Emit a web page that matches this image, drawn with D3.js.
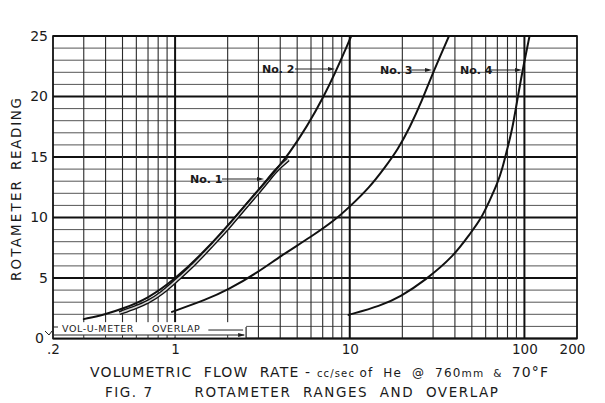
<!DOCTYPE html>
<html><head><meta charset="utf-8">
<script src="https://cdn.jsdelivr.net/npm/d3@7"></script>
<style>body{margin:0;background:#fff}svg{display:block}text{font-family:"DejaVu Sans",sans-serif;fill:#1a1a1a}</style>
</head><body>
<svg id="c" width="605" height="403"></svg>
<script>
// ---- data ----
const no1X = [0.48, 0.6, 0.7, 0.85, 1.0, 1.3, 1.6, 2.0, 2.4, 3.0, 3.5, 3.9, 4.45];
const no1Y = [2.1, 2.6, 3.0, 3.8, 4.7, 6.2, 7.6, 9.1, 10.5, 12.1, 13.3, 14.1, 14.8];
const no2X = [0.3, 0.4, 0.5, 0.7, 1.0, 1.5, 2.2, 3.0, 4.45, 7.24, 10.2];
const no2Y = [1.6, 2.0, 2.45, 3.3, 4.9, 7.3, 10.0, 12.3, 15.0, 20.0, 25.0];
const no3X = [0.96, 1.5, 2, 3, 4, 6, 8.25, 10, 13, 16, 18.8, 22, 26, 30, 37];
const no3Y = [2.2, 3.2, 4.0, 5.5, 6.8, 8.4, 9.8, 10.9, 12.5, 14.2, 15.6, 17.4, 19.7, 22.0, 25.0];
const no4X = [9.84, 15, 19.5, 27, 39.4, 49, 56, 63.5, 70, 75, 79.5, 85, 91, 97.7, 107];
const no4Y = [1.95, 2.7, 3.45, 4.8, 6.8, 8.7, 9.8, 11.45, 12.8, 14.1, 15.6, 17.2, 19.7, 22.2, 25.0];
const curveNames = ["No. 1", "No. 2", "No. 3", "No. 4"];
const xTickValues = [0.2, 1, 10, 100, 200];
const xTickLabels = [".2", "1", "10", "100", "200"];
const yTickValues = [0, 5, 10, 15, 20, 25];
const yTickLabels = ["0", "5", "10", "15", "20", "25"];
const overlapRange = [0.2, 2.55];
const overlapText = "VOL-U-METER     OVERLAP";

// ---- scales ----
const svg = d3.select("#c");
const x = d3.scaleLog().domain([0.2, 200]).range([53, 577]);
const y = d3.scaleLinear().domain([0, 25]).range([338.5, 36]);

// grid values
const xGrid = [];
[0.1, 1, 10].forEach(dec => { for (let k = 1; k <= 9; k++) { const v = +(k * dec).toPrecision(3); if (v >= 0.2) xGrid.push(v); } });
xGrid.push(100, 200);
const yGrid = d3.range(0, 26);
const isMajorX = v => v === 1 || v === 10 || v === 100;

const g = svg.append("g");
g.selectAll("line.h").data(yGrid).join("line")
  .attr("x1", x(0.2)).attr("x2", x(200))
  .attr("y1", d => y(d)).attr("y2", d => y(d))
  .attr("stroke", d => d % 5 === 0 ? "#111" : "#555")
  .attr("stroke-width", d => d % 5 === 0 ? 2 : 1);
g.selectAll("line.v").data(xGrid).join("line")
  .attr("x1", d => x(d)).attr("x2", d => x(d))
  .attr("y1", y(25)).attr("y2", y(0))
  .attr("stroke", d => isMajorX(d) ? "#111" : "#2a2a2a")
  .attr("stroke-width", d => isMajorX(d) ? 2 : 1.1);
g.append("rect").attr("x", x(0.2)).attr("y", y(25)).attr("width", x(200) - x(0.2)).attr("height", y(0) - y(25))
  .attr("fill", "none").attr("stroke", "#111").attr("stroke-width", 1.6);

// overlap band
const bandTop = y(1.35);
g.append("rect").attr("x", x(overlapRange[0]) + 1).attr("y", bandTop)
  .attr("width", x(overlapRange[1]) - x(overlapRange[0]) - 1).attr("height", y(0) - bandTop - 1.2)
  .attr("fill", "#fff");
const lineY = y(0) - 3.5;
g.append("line").attr("x1", x(0.2)).attr("x2", x(overlapRange[1]) - 2).attr("y1", lineY).attr("y2", lineY)
  .attr("stroke", "#222").attr("stroke-width", 1);
g.selectAll("line.bt").data(xGrid.filter(v => v <= 2)).join("line")
  .attr("x1", d => x(d)).attr("x2", d => x(d)).attr("y1", lineY).attr("y2", y(0))
  .attr("stroke", "#333").attr("stroke-width", 1);
g.append("line").attr("x1", x(overlapRange[1])).attr("x2", x(overlapRange[1]))
  .attr("y1", y(0.95)).attr("y2", y(0)).attr("stroke", "#222").attr("stroke-width", 1.2);
g.append("path").attr("d", `M${x(overlapRange[1]) - 8},${lineY - 2}L${x(overlapRange[1]) - 1},${lineY}L${x(overlapRange[1]) - 8},${lineY + 2}Z`).attr("fill", "#222");
g.append("line").attr("x1", x(0.2)).attr("x2", x(0.2) + 5).attr("y1", y(0.95)).attr("y2", y(0.95)).attr("stroke", "#222");
g.append("text").attr("x", x(0.2) + 9).attr("y", y(0.55)).attr("font-size", 9.5).attr("letter-spacing", 0.6)
  .style("white-space", "pre").text(overlapText);
g.append("line").attr("x1", x(1.55)).attr("x2", x(overlapRange[1]) - 3).attr("y1", y(0.7)).attr("y2", y(0.7)).attr("stroke", "#222");

// curves
const lineSmooth = d3.line().x(d => x(d[0])).y(d => y(d[1])).curve(d3.curveBasis);
const zip = (a, b) => a.map((v, i) => [v, b[i]]);
const c = svg.append("g").attr("fill", "none");
c.append("path").attr("d", lineSmooth(zip(no1X, no1Y))).attr("stroke", "#111").attr("stroke-width", 4.2);
c.append("path").attr("d", lineSmooth(zip(no1X, no1Y))).attr("stroke", "#d4d4d4").attr("stroke-width", 1.5);
[[no2X, no2Y], [no3X, no3Y], [no4X, no4Y]].forEach(([a, b]) =>
  c.append("path").attr("d", lineSmooth(zip(a, b))).attr("stroke", "#111").attr("stroke-width", 2).attr("stroke-linecap", "round"));

// curve labels with arrows
const ann = [
  {name: curveNames[0], tx: 190, ty: 182.5, a0: 222, a1: 264, ay: 179},
  {name: curveNames[1], tx: 262, ty: 73, a0: 295, a1: 335, ay: 69},
  {name: curveNames[2], tx: 380, ty: 74, a0: 408, a1: 432, ay: 70},
  {name: curveNames[3], tx: 460, ty: 74, a0: 490, a1: 522, ay: 70}
];
const an = svg.append("g");
ann.forEach(d => {
  an.append("text").attr("x", d.tx).attr("y", d.ty).attr("font-size", 11).attr("font-weight", 600).text(d.name);
  an.append("line").attr("x1", d.a0).attr("x2", d.a1 - 3).attr("y1", d.ay).attr("y2", d.ay).attr("stroke", "#222").attr("stroke-width", 1);
  an.append("path").attr("d", `M${d.a1 - 7},${d.ay - 2}L${d.a1},${d.ay}L${d.a1 - 7},${d.ay + 2}Z`).attr("fill", "#222");
});

// axes
const ya = svg.append("g").attr("transform", `translate(${x(0.2)},0)`)
  .call(d3.axisLeft(y).tickValues(yTickValues).tickFormat((d, i) => yTickLabels[i]).tickSize(0).tickPadding(5));
ya.select(".domain").remove();
ya.selectAll("text").attr("font-size", 14).attr("font-family", "DejaVu Sans").attr("fill", "#1a1a1a");
ya.selectAll(".tick").filter(d => d === 0).select("text").attr("dx", -4);
svg.append("path").attr("d", `M45,331L49,335L52,331`).attr("fill", "none").attr("stroke", "#222").attr("stroke-width", 1);

const xa = svg.append("g").attr("transform", `translate(0,${y(0)})`)
  .call(d3.axisBottom(x).tickValues(xTickValues).tickFormat((d, i) => xTickLabels[i]).tickSize(0).tickPadding(6));
xa.select(".domain").remove();
xa.selectAll("text").attr("font-size", 13.5).attr("font-family", "DejaVu Sans").attr("fill", "#1a1a1a");
xa.selectAll(".tick").filter(d => d === 200).select("text").attr("dx", -5);

// titles
svg.append("text").attr("transform", "translate(21,231) rotate(-90)").attr("text-anchor", "middle")
  .attr("font-size", 13.5).attr("textLength", 100).attr("lengthAdjust", "spacing").text("ROTAMETER");
svg.append("text").attr("transform", "translate(21,134) rotate(-90)").attr("text-anchor", "middle")
  .attr("font-size", 13.5).attr("textLength", 72).attr("lengthAdjust", "spacing").text("READING");

const xt = svg.append("text").attr("x", 90).attr("y", 377).attr("font-size", 14)
  .attr("textLength", 458).attr("lengthAdjust", "spacing").style("white-space", "pre");
xt.append("tspan").text("VOLUMETRIC  FLOW  RATE - ");
xt.append("tspan").attr("font-size", 10).text("cc/sec ");
xt.append("tspan").attr("font-size", 12).text("of  He  @  760");
xt.append("tspan").attr("font-size", 10.5).text("mm  &  ");
xt.append("tspan").text("70°F");

svg.append("text").attr("x", 105).attr("y", 397).attr("font-size", 13.5).style("white-space", "pre")
  .attr("textLength", 393).attr("lengthAdjust", "spacing").text("FIG. 7       ROTAMETER  RANGES  AND  OVERLAP");
</script>
</body></html>
